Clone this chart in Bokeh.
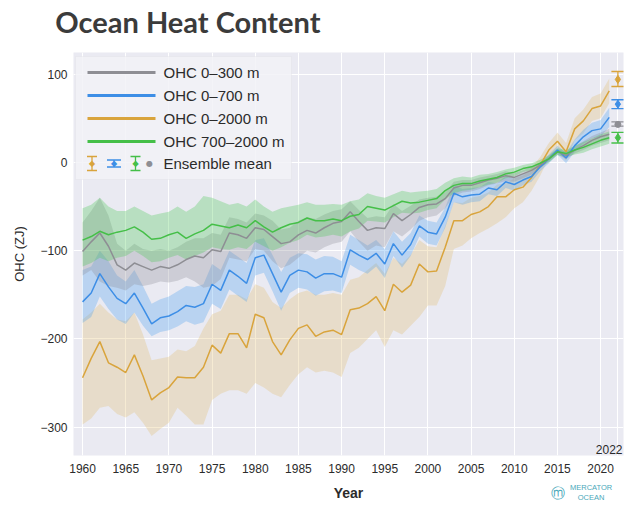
from bokeh.plotting import figure
from bokeh.models import (Range1d, FixedTicker, Label, BoxAnnotation, Arrow,
                          TeeHead, Whisker, ColumnDataSource, LinearAxis)
from bokeh.embed import file_html
from bokeh.resources import INLINE

# ---------------- data ----------------
years = list(range(1960, 2022))
ensemble_year = 2022

gray_mean = [-101, -90, -80, -95, -116, -122, -114, -118, -122, -118,
             -120, -116, -110, -106, -108, -99, -101, -80, -82, -86,
             -74, -76, -84, -92, -90, -82, -77, -80, -74, -69,
             -67, -56, -67, -77, -74, -75, -58, -66, -59, -51,
             -48, -47, -41, -29, -26, -26, -23, -20, -18, -15,
             -17, -13, -9, -3, 4, 12, 8, 14, 19, 25,
             29, 32]
gray_hi = [-68, -55, -40, -60, -92, -100, -92, -98, -100, -98,
           -100, -96, -90, -86, -86, -80, -82, -62, -64, -68,
           -58, -60, -66, -76, -74, -66, -62, -64, -59, -55,
           -53, -44, -54, -63, -61, -62, -47, -55, -49, -42,
           -40, -39, -34, -22, -20, -20, -17, -15, -13, -10,
           -12, -9, -5, 0, 7, 15, 12, 18, 24, 30,
           34, 38]
gray_lo = [-128, -122, -135, -140, -142, -145, -138, -140, -138, -135,
           -136, -134, -130, -135, -142, -140, -132, -108, -110, -112,
           -98, -100, -112, -120, -116, -108, -100, -102, -96, -92,
           -90, -78, -90, -100, -94, -96, -78, -84, -76, -66,
           -62, -60, -52, -38, -34, -33, -30, -26, -24, -21,
           -22, -18, -14, -7, 1, 9, 4, 10, 14, 19,
           22, 25]

blue_mean = [-158, -148, -126, -141, -154, -160, -148, -165, -183, -176,
             -174, -169, -162, -164, -160, -138, -145, -122, -129, -137,
             -108, -105, -126, -147, -128, -122, -124, -131, -126, -126,
             -130, -99, -105, -110, -103, -115, -92, -105, -93, -72,
             -79, -81, -62, -35, -39, -37, -36, -29, -31, -22,
             -25, -20, -16, -5, 4, 14, 5, 19, 29, 36,
             38, 51]
blue_hi = [-122, -118, -100, -112, -128, -135, -122, -140, -160, -155,
           -152, -146, -140, -141, -138, -115, -122, -100, -107, -114,
           -88, -86, -105, -124, -108, -103, -104, -110, -106, -107,
           -112, -82, -88, -94, -88, -98, -78, -90, -80, -60,
           -66, -68, -51, -26, -30, -29, -28, -22, -24, -15,
           -18, -14, -10, 0, 9, 19, 11, 26, 37, 45,
           48, 62]
blue_lo = [-182, -175, -152, -166, -178, -183, -170, -185, -197, -192,
           -190, -186, -180, -184, -181, -160, -166, -144, -151, -158,
           -128, -125, -146, -168, -148, -142, -144, -151, -146, -145,
           -148, -116, -122, -126, -118, -131, -106, -119, -106, -84,
           -92, -94, -74, -45, -48, -45, -44, -36, -38, -29,
           -32, -26, -22, -10, -1, 9, -1, 12, 21, 27,
           29, 40]

gold_mean = [-244, -222, -203, -227, -232, -238, -218, -242, -269, -261,
             -255, -243, -244, -244, -232, -207, -216, -194, -194, -210,
             -172, -176, -203, -218, -201, -188, -184, -197, -192, -190,
             -195, -167, -165, -160, -152, -168, -138, -147, -139, -115,
             -124, -123, -96, -66, -66, -59, -56, -50, -39, -39,
             -31, -28, -17, -3, 14, 24, 12, 38, 47, 61,
             64, 81]
gold_hi = [-178, -170, -160, -170, -178, -180, -170, -195, -224, -222,
           -220, -212, -214, -208, -188, -172, -168, -150, -150, -155,
           -138, -142, -158, -165, -155, -148, -145, -150, -150, -148,
           -150, -133, -130, -122, -114, -126, -108, -115, -105, -88,
           -95, -96, -72, -45, -46, -40, -38, -34, -25, -24,
           -18, -15, -6, 6, 22, 34, 22, 50, 60, 74,
           78, 95]
gold_lo = [-297, -290, -278, -276, -285, -289, -283, -295, -310, -302,
           -295, -278, -287, -297, -297, -269, -262, -258, -258, -262,
           -250, -255, -262, -266, -252, -240, -232, -238, -236, -238,
           -243, -216, -210, -200, -190, -209, -190, -195, -185, -175,
           -162, -162, -140, -98, -94, -86, -80, -75, -69, -62,
           -52, -45, -32, -15, 5, 12, 2, 25, 33, 47,
           50, 67]

green_mean = [-88, -84, -78, -82, -79, -77, -73, -79, -87, -86,
              -82, -79, -86, -81, -77, -70, -72, -74, -71, -74,
              -66, -73, -79, -74, -70, -68, -63, -66, -66, -64,
              -66, -61, -59, -50, -52, -54, -49, -44, -46, -45,
              -43, -41, -32, -26, -24, -24, -21, -19, -17, -13,
              -11, -7, -5, -1, 4, 12, 10, 14, 17, 21,
              25, 28]
green_hi = [-52, -48, -40, -50, -55, -55, -50, -55, -60, -58,
            -56, -50, -56, -50, -38, -40, -44, -48, -46, -50,
            -42, -50, -56, -52, -50, -48, -45, -48, -48, -47,
            -48, -44, -42, -35, -38, -40, -36, -32, -34, -33,
            -32, -30, -23, -18, -16, -17, -14, -13, -11, -8,
            -6, -3, -1, 3, 8, 16, 14, 19, 23, 27,
            32, 35]
green_lo = [-118, -114, -108, -112, -108, -106, -100, -106, -113, -112,
            -108, -105, -110, -106, -102, -96, -98, -99, -96, -98,
            -90, -95, -100, -96, -91, -88, -82, -85, -84, -82,
            -84, -78, -75, -66, -67, -68, -62, -57, -58, -57,
            -54, -52, -42, -35, -32, -31, -28, -25, -23, -18,
            -16, -11, -9, -5, 0, 8, 6, 9, 11, 15,
            18, 21]

# ensemble mean for the final year: [gray, blue, gold, green]
ens_mean = [43, 66, 94, 28]
ens_lo = [41, 61, 86, 22]
ens_hi = [46, 71, 103, 34]

title_text = "Ocean Heat Content"
series_names = ["OHC 0–300 m", "OHC 0–700 m", "OHC 0–2000 m", "OHC 700–2000 m"]
x_ticks = [1960, 1965, 1970, 1975, 1980, 1985, 1990, 1995, 2000, 2005, 2010, 2015, 2020]
y_ticks = [-300, -200, -100, 0, 100]
y_tick_labels = ["−300", "−200", "−100", "0", "100"]
x_lo, x_hi = 1958.95, 2022.65
y_lo, y_hi = -332, 124.5

# ---------------- styling ----------------
line_colors = ["#8e8e94", "#3d8ee6", "#d9a43c", "#45bf48"]
band_colors = ["#8a8a95", "#4aa0f0", "#e0bc6c", "#45c850"]
band_alpha = [0.30, 0.30, 0.30, 0.30]
FONT = "Liberation Sans"
TXT = "#2b2b2b"
LOGO = "#4aa8ba"

p = figure(width=641, height=505, output_backend="svg", toolbar_location=None,
           x_range=Range1d(x_lo, x_hi), y_range=Range1d(y_lo, y_hi),
           min_border_left=73, min_border_right=18, min_border_top=52,
           min_border_bottom=50)

p.background_fill_color = "#eaeaf2"
p.border_fill_color = "white"
p.outline_line_color = None
p.title.visible = False

p.xaxis.ticker = FixedTicker(ticks=x_ticks)
p.yaxis.ticker = FixedTicker(ticks=y_ticks)
p.yaxis.major_label_overrides = {t: l for t, l in zip(y_ticks, y_tick_labels)}
p.xgrid.ticker = FixedTicker(ticks=x_ticks + [ensemble_year])
p.ygrid.ticker = FixedTicker(ticks=y_ticks)
for g in (p.xgrid, p.ygrid):
    g.grid_line_color = "white"
    g.grid_line_width = 1
for ax in (p.xaxis, p.yaxis):
    ax.axis_line_color = None
    ax.major_tick_line_color = None
    ax.minor_tick_line_color = None
    ax.major_tick_out = 0
    ax.major_label_text_font = FONT
    ax.major_label_text_font_size = "12px"
    ax.major_label_text_color = TXT
    ax.axis_label_text_font = FONT
    ax.axis_label_text_color = TXT
p.xaxis.major_label_standoff = 8
p.yaxis.major_label_standoff = 6
p.xaxis.axis_label = "Year"
p.xaxis.axis_label_text_font_style = "bold"
p.xaxis.axis_label_text_font_size = "14px"
p.xaxis.axis_label_standoff = 9
p.yaxis.axis_label = "OHC (ZJ)"
p.yaxis.axis_label_text_font_style = "normal"
p.yaxis.axis_label_text_font_size = "13px"
p.yaxis.axis_label_standoff = 10


def bare_axis(tick, text, font, size, standoff, color, style="normal"):
    ax = LinearAxis(ticker=FixedTicker(ticks=[tick]),
                    major_label_overrides={tick: text})
    ax.axis_line_color = None
    ax.major_tick_line_color = None
    ax.minor_tick_line_color = None
    ax.major_tick_out = 0
    ax.major_tick_in = 0
    ax.major_label_text_font = font
    ax.major_label_text_font_size = size
    ax.major_label_text_font_style = style
    ax.major_label_text_color = color
    ax.major_label_standoff = standoff
    return ax


# chart title, above the frame (left part)
title_x = 1972.2
p.add_layout(bare_axis(title_x, title_text, "Lato", "29px", 14, "#3b3b3b", "bold"),
             "above")

# logo below the axis, bottom right
logo_text_x = 2018.9
logo_icon_x = 2015.1
p.add_layout(bare_axis(logo_text_x, "MERCATOR\nOCEAN", FONT, "7.5px", -21, LOGO), "below")
p.add_layout(bare_axis(logo_icon_x, "ⓜ", "DejaVu Sans", "14px", -21, LOGO), "below")

means = [gray_mean, blue_mean, gold_mean, green_mean]
his = [gray_hi, blue_hi, gold_hi, green_hi]
los = [gray_lo, blue_lo, gold_lo, green_lo]

# bands
for k in (2, 1, 0, 3):
    p.varea(x=years, y1=los[k], y2=his[k], fill_color=band_colors[k],
            fill_alpha=band_alpha[k])
# lines
for k in (2, 1, 0, 3):
    p.line(x=years, y=means[k], line_color=line_colors[k], line_width=1.5)

# ensemble mean error bars
marks = ["circle", "diamond", "diamond", "diamond"]
msize = [6, 8, 8, 8]
for k in range(4):
    src = ColumnDataSource(dict(x=[ensemble_year], y=[ens_mean[k]],
                                lo=[ens_lo[k]], hi=[ens_hi[k]]))
    c = line_colors[k]
    p.add_layout(Whisker(source=src, base="x", lower="lo", upper="hi",
                         dimension="height", line_color=c, line_width=1.3,
                         upper_head=TeeHead(size=13, line_color=c, line_width=1.3),
                         lower_head=TeeHead(size=13, line_color=c, line_width=1.3)))
    p.scatter(x="x", y="y", source=src, marker=marks[k], size=msize[k],
              fill_color=c, line_color=c)

# year label at the bottom right of the frame
p.add_layout(Label(x=x_hi, y=y_lo, text=str(ensemble_year),
                   text_align="right", text_baseline="bottom", x_offset=-1,
                   y_offset=2, text_font=FONT, text_font_size="12px",
                   text_color=TXT))

# ---------------- manual legend (screen units, frame-relative) ----------------
FL, FB = 73, 455   # frame left / bottom on the page


def sx(px):
    return px - FL


def sy(py):
    return FB - py


p.add_layout(BoxAnnotation(left=sx(75), right=sx(291), top=sy(56), bottom=sy(179),
                           left_units="screen", right_units="screen",
                           top_units="screen", bottom_units="screen",
                           fill_color="#f2f2f7", fill_alpha=0.85,
                           line_color="#dedee6", line_width=1))
rows = [72, 95, 118, 141, 163]
for k in range(4):
    p.add_layout(Arrow(x_start=sx(87), y_start=sy(rows[k]), x_end=sx(155),
                       y_end=sy(rows[k]), start_units="screen", end_units="screen",
                       end=None, line_color=line_colors[k], line_width=3))
    p.add_layout(Label(x=sx(163), y=sy(rows[k]), x_units="screen", y_units="screen",
                       text=series_names[k], text_font=FONT, text_font_size="15px",
                       text_baseline="middle", text_color=TXT))

r5 = rows[4]
for (px, half, cap, k) in [(91.5, 7, 10, 2), (113.5, 3.5, 14, 1), (135, 7, 10, 3)]:
    c = line_colors[k]
    p.add_layout(Arrow(x_start=sx(px), y_start=sy(r5 + half), x_end=sx(px),
                       y_end=sy(r5 - half), start_units="screen", end_units="screen",
                       start=TeeHead(size=cap, line_color=c, line_width=1.3),
                       end=TeeHead(size=cap, line_color=c, line_width=1.3),
                       line_color=c, line_width=1.3))
    p.add_layout(Label(x=sx(px), y=sy(r5), x_units="screen", y_units="screen",
                       text="◆", text_font="DejaVu Sans", text_font_size="8px",
                       text_align="center", text_baseline="middle", text_color=c))
p.add_layout(Label(x=sx(149), y=sy(r5), x_units="screen", y_units="screen",
                   text="●", text_font="DejaVu Sans", text_font_size="8px",
                   text_align="center", text_baseline="middle",
                   text_color=line_colors[0]))
p.add_layout(Label(x=sx(163), y=sy(r5), x_units="screen", y_units="screen",
                   text="Ensemble mean", text_font=FONT, text_font_size="15px",
                   text_baseline="middle", text_color=TXT))

open("out.html", "w").write(file_html(p, INLINE))
